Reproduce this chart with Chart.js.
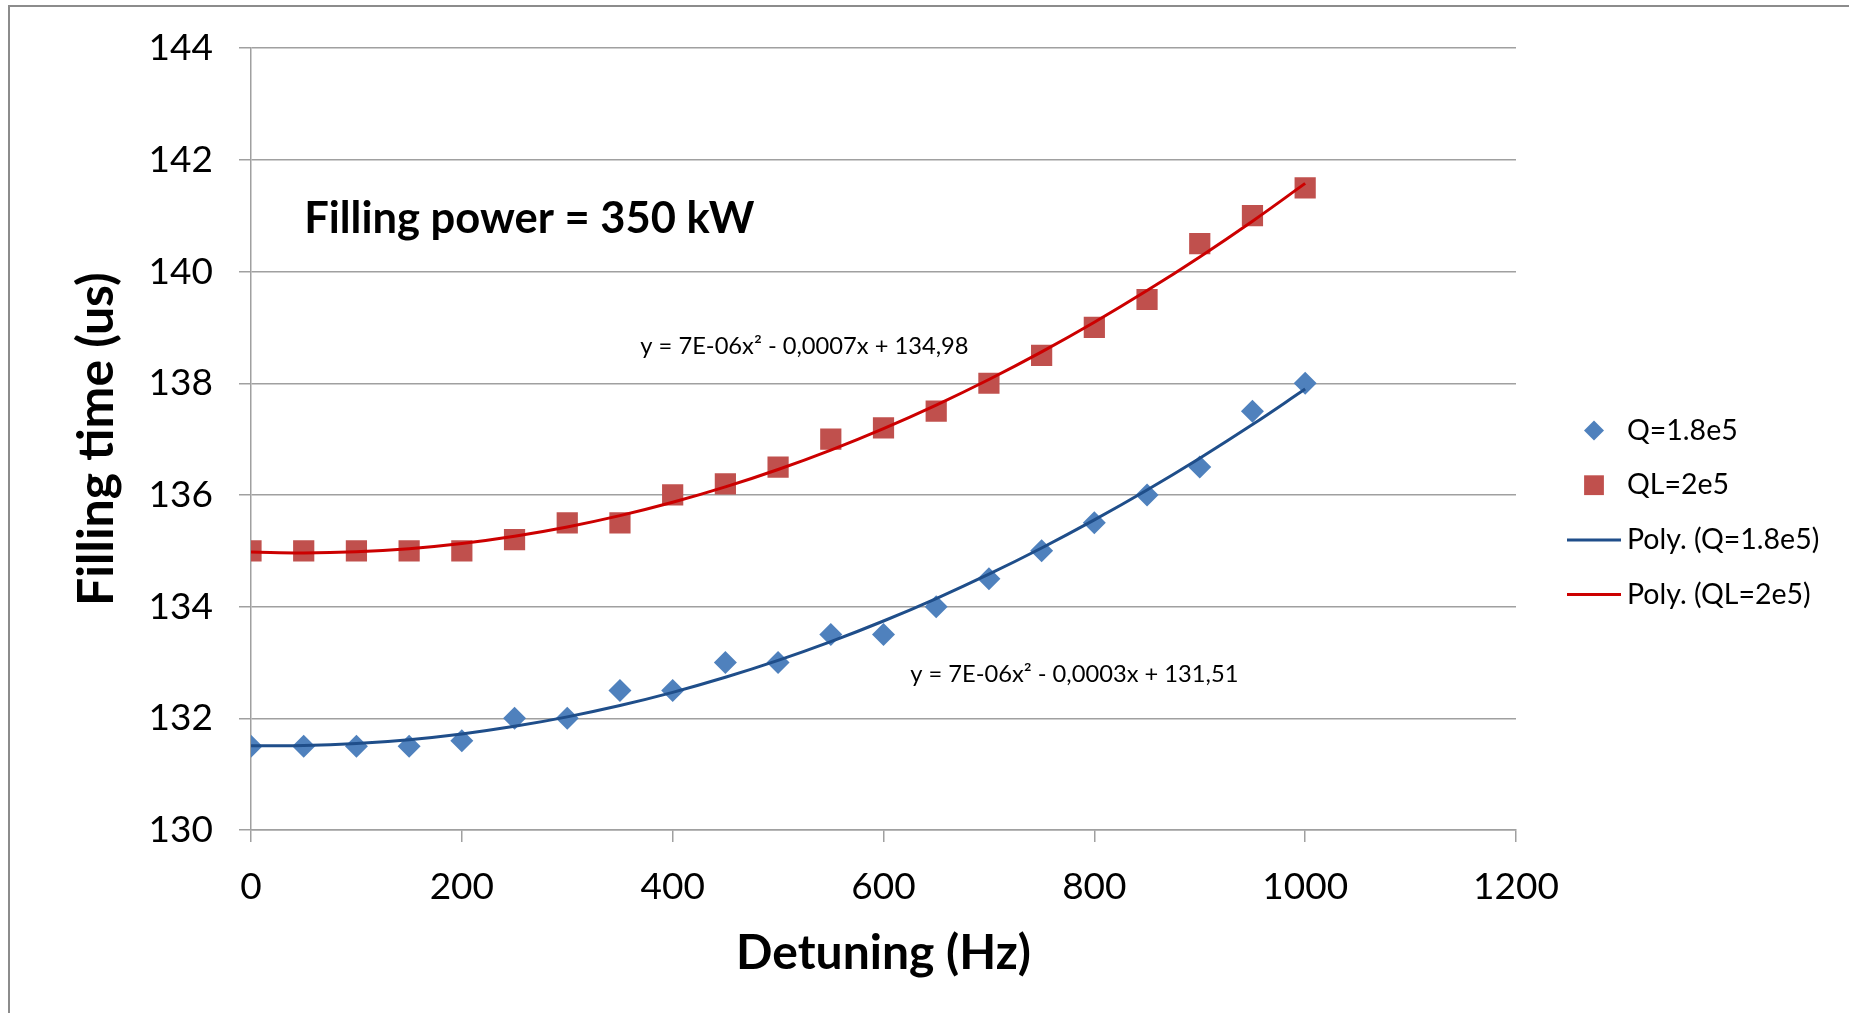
<!DOCTYPE html>
<html>
<head>
<meta charset="utf-8">
<title>Filling time vs detuning</title>
<script src="https://cdn.jsdelivr.net/npm/chart.js@4.4.1/dist/chart.umd.min.js"></script>
<style>
  html, body { margin: 0; padding: 0; background: #fff; }
  canvas { display: block; }
</style>
</head>
<body>
<canvas id="fillChart" width="1849" height="1013"></canvas>
<script>
// measured filling times (us) against cavity detuning (Hz)
var detuning = [0, 50, 100, 150, 200, 250, 300, 350, 400, 450, 500, 550, 600, 650, 700, 750, 800, 850, 900, 950, 1000];
var timeQ18 = [131.5, 131.5, 131.5, 131.5, 131.6, 132.0, 132.0, 132.5, 132.5, 133.0, 133.0, 133.5, 133.5, 134.0, 134.5, 135.0, 135.5, 136.0, 136.5, 137.5, 138.0];
var timeQL2 = [135.0, 135.0, 135.0, 135.0, 135.0, 135.2, 135.5, 135.5, 136.0, 136.2, 136.5, 137.0, 137.2, 137.5, 138.0, 138.5, 139.0, 139.5, 140.5, 141.0, 141.5];
var seriesNames = ["Q=1.8e5", "QL=2e5"];
var xTickValues = [0, 200, 400, 600, 800, 1000, 1200];
var yTickValues = [130, 132, 134, 136, 138, 140, 142, 144];

var gridColor = "#a0a0a0";
var blueMark = "#4F81BD", redMark = "#C0504D";
var blueFit = "#1F4E8A", redFit = "#CC0000";

Chart.defaults.font.family = "Lato";
Chart.defaults.color = "#000";

// least squares y = a*x^2 + b*x + c (done on x/1000 to keep the sums small)
function quadFit(xs, ys) {
	var S = [0, 0, 0, 0, 0], T = [0, 0, 0];
	xs.forEach(function (x, i) {
		var u = x / 1000, p = 1;
		for (var k = 0; k < 5; k++) {
			S[k] += p;
			if (k < 3) T[k] += ys[i] * p;
			p *= u;
		}
	});
	var m = [
		[S[4], S[3], S[2], T[2]],
		[S[3], S[2], S[1], T[1]],
		[S[2], S[1], S[0], T[0]],
	];
	for (var col = 0; col < 3; col++) {
		for (var row = col + 1; row < 3; row++) {
			var f = m[row][col] / m[col][col];
			for (var j = col; j < 4; j++) m[row][j] -= f * m[col][j];
		}
	}
	var sol = [0, 0, 0];
	for (var r = 2; r >= 0; r--) {
		var v = m[r][3];
		for (var q = r + 1; q < 3; q++) v -= m[r][q] * sol[q];
		sol[r] = v / m[r][r];
	}
	return { a: sol[0] / 1e6, b: sol[1] / 1e3, c: sol[2] };
}

// excel style equation text, decimal comma
function fitLabel(f) {
	var parts = f.a.toExponential(0).split("e");
	var ex = parseInt(parts[1], 10);
	var aTxt = parts[0] + "E" + (ex < 0 ? "-" : "+") + String(Math.abs(ex)).padStart(2, "0");
	var bTxt = (f.b < 0 ? " - " : " + ") + Math.abs(f.b).toFixed(4).replace(".", ",");
	var cTxt = (f.c < 0 ? " - " : " + ") + Math.abs(f.c).toFixed(2).replace(".", ",");
	return "y = " + aTxt + "x\u00B2" + bTxt + "x" + cTxt;
}

function points(xs, ys) {
	return xs.map(function (x, i) { return { x: x, y: ys[i] }; });
}

function trend(f) {
	return detuning.map(function (x) { return { x: x, y: f.a * x * x + f.b * x + f.c }; });
}

var fitQ18 = quadFit(detuning, timeQ18);
var fitQL2 = quadFit(detuning, timeQL2);

// frame, legend and text boxes
var extras = {
	id: "extras",
	beforeDraw: function (chart) {
		var c = chart.ctx;
		c.save();
		c.fillStyle = "#fff";
		c.fillRect(0, 0, chart.width, chart.height);
		c.strokeStyle = "#8c8c8c";
		c.lineWidth = 2;
		c.strokeRect(9, 6, chart.width + 40, chart.height + 40);
		c.restore();
	},
	afterDraw: function (chart) {
		var c = chart.ctx, xs = chart.scales.x, ys = chart.scales.y;
		c.save();
		c.fillStyle = "#000";
		c.textAlign = "center";
		c.textBaseline = "middle";

		c.font = "bold 43.5px Lato";
		c.fillText("Filling power = 350 kW", xs.getPixelForValue(264), ys.getPixelForValue(140.95));

		c.font = "23.7px Lato";
		c.fillText(fitLabel(fitQL2), xs.getPixelForValue(525), ys.getPixelForValue(138.66));
		c.fillText(fitLabel(fitQ18), xs.getPixelForValue(781), ys.getPixelForValue(132.78));

		// legend
		var lx = 1594, ly = 430.5, step = 54.7;
		c.textAlign = "left";
		c.font = "28.5px Lato";
		chart.data.datasets.forEach(function (ds, i) {
			var y = ly + i * step;
			if (ds.type === "line") {
				c.strokeStyle = ds.borderColor;
				c.lineWidth = 3;
				c.beginPath();
				c.moveTo(lx - 27, y);
				c.lineTo(lx + 27, y);
				c.stroke();
			} else {
				c.fillStyle = ds.pointBackgroundColor;
				Chart.helpers.drawPoint(c, {
					pointStyle: ds.pointStyle,
					radius: ds.pointStyle === "rect" ? 14 : 10,
					borderWidth: 0,
				}, lx, y);
			}
			c.fillStyle = "#000";
			c.fillText(ds.label, 1627, y);
		});
		c.restore();
	},
};

new Chart(document.getElementById("fillChart"), {
	type: "scatter",
	data: {
		datasets: [
			{
				type: "scatter",
				label: seriesNames[0],
				data: points(detuning, timeQ18),
				pointStyle: "rectRot",
				pointRadius: 11.5,
				pointBackgroundColor: blueMark,
				pointBorderColor: blueMark,
				pointBorderWidth: 0,
				order: 2,
			},
			{
				type: "scatter",
				label: seriesNames[1],
				data: points(detuning, timeQL2),
				pointStyle: "rect",
				pointRadius: 15,
				pointBackgroundColor: redMark,
				pointBorderColor: redMark,
				pointBorderWidth: 0,
				order: 2,
			},
			{
				type: "line",
				label: "Poly. (" + seriesNames[0] + ")",
				data: trend(fitQ18),
				borderColor: blueFit,
				borderWidth: 3,
				pointRadius: 0,
				tension: 0.4,
				fill: false,
				order: 1,
			},
			{
				type: "line",
				label: "Poly. (" + seriesNames[1] + ")",
				data: trend(fitQL2),
				borderColor: redFit,
				borderWidth: 3,
				pointRadius: 0,
				tension: 0.4,
				fill: false,
				order: 1,
			},
		],
	},
	options: {
		responsive: false,
		animation: false,
		layout: { padding: { left: 0, right: 333, top: 46, bottom: 0 } },
		plugins: {
			legend: { display: false },
			tooltip: { enabled: false },
		},
		scales: {
			x: {
				type: "linear",
				min: 0,
				max: 1200,
				afterBuildTicks: function (s) {
					s.ticks = xTickValues.map(function (v) { return { value: v }; });
				},
				afterFit: function (s) { s.height = 183; },
				grid: { drawOnChartArea: false, drawTicks: true, tickLength: 12, color: gridColor, lineWidth: 1.5 },
				border: { color: gridColor, width: 1.5 },
				ticks: {
					padding: 23,
					font: { size: 37 },
					callback: function (v) { return String(v); },
				},
				title: {
					display: true,
					text: "Detuning (Hz)",
					font: { size: 48, weight: "bold" },
					padding: { top: 0, bottom: 31 },
				},
			},
			y: {
				min: 130,
				max: 144,
				afterBuildTicks: function (s) {
					s.ticks = yTickValues.map(function (v) { return { value: v }; });
				},
				afterFit: function (s) { s.width = 251; },
				grid: { drawTicks: true, tickLength: 12, color: gridColor, lineWidth: 1.5 },
				border: { color: gridColor, width: 1.5 },
				ticks: {
					padding: 26,
					font: { size: 37 },
					callback: function (v) { return String(v); },
				},
				title: {
					display: true,
					text: "Filling time (us)",
					font: { size: 50, weight: "bold" },
					padding: { top: 67, bottom: 0 },
				},
			},
		},
	},
	plugins: [extras],
});
</script>
</body>
</html>
